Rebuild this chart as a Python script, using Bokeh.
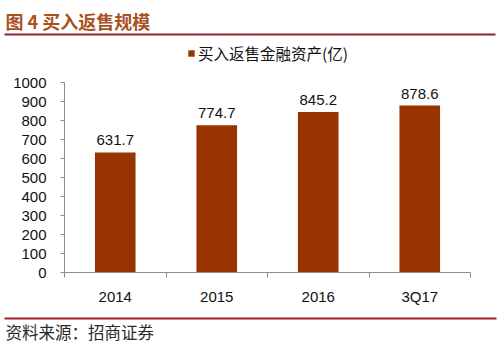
from bokeh.plotting import figure
from bokeh.models import (ColumnDataSource, FixedTicker, Label, Arrow, Legend, LegendItem,
                          Range1d, LabelSet, LinearAxis)
from bokeh.core.properties import value
from bokeh.embed import file_html
from bokeh.resources import INLINE

categories = ["2014", "2015", "2016", "3Q17"]
values = [631.7, 774.7, 845.2, 878.6]
series_name = "买入返售金融资产(亿)"
title_text = "图 4  买入返售规模"
source_text = "资料来源：招商证券"
y_ticks = [0, 100, 200, 300, 400, 500, 600, 700, 800, 900, 1000]

W, H = 500, 356
# plot area in canvas pixels
left_px, right_px, top_px, bottom_px = 64, 470, 82, 272
n = len(categories)
ymax = y_ticks[-1]
xscale = (right_px - left_px) / n
yscale = (bottom_px - top_px) / ymax

xs = [i + 0.5 for i in range(n)]
src = ColumnDataSource(dict(x=xs, v=values, lab=[f"{v:.1f}" for v in values]))

p = figure(width=W, height=H, output_backend="svg", toolbar_location=None,
           x_range=Range1d(-left_px / xscale, n + (W - right_px) / xscale),
           y_range=Range1d(-(H - bottom_px) / yscale, ymax + top_px / yscale),
           x_axis_location=None, y_axis_location=None,
           min_border=0)
p.outline_line_color = None
p.xgrid.visible = False
p.ygrid.visible = False
p.background_fill_color = "white"
p.border_fill_color = "white"

bars = p.vbar(x="x", top="v", width=0.4, source=src, fill_color="#993300", line_color=None)

labels = LabelSet(x="x", y="v", text="lab", source=src, text_align="center", text_baseline="bottom",
                  y_offset=7, text_font=value("Liberation Sans"), text_font_size=value("15px"),
                  text_color="#111111")
p.add_layout(labels)

# axes
ax = LinearAxis(fixed_location=0, bounds=(0, n))
ax.ticker = FixedTicker(ticks=xs, minor_ticks=list(range(n + 1)))
ax.major_label_overrides = {x: c for x, c in zip(xs, categories)}
ax.major_tick_in = 0
ax.major_tick_out = 0
ax.minor_tick_in = 0
ax.minor_tick_out = 5
ax.minor_tick_line_color = "#8c8c8c"
ax.axis_line_color = "#8c8c8c"
ax.major_label_text_font = "Liberation Sans"
ax.major_label_text_font_size = "15px"
ax.major_label_text_color = "#111111"
ax.major_label_standoff = 10
p.add_layout(ax, "below")

ay = LinearAxis(fixed_location=0, bounds=(0, ymax))
ay.ticker = FixedTicker(ticks=y_ticks, minor_ticks=[])
ay.major_tick_in = 0
ay.major_tick_out = 4
ay.major_tick_line_color = "#8c8c8c"
ay.axis_line_color = "#8c8c8c"
ay.major_label_text_font = "Liberation Sans"
ay.major_label_text_font_size = "15px"
ay.major_label_text_color = "#111111"
ay.major_label_standoff = 14
p.add_layout(ay, "left")

# legend
legend = Legend(items=[LegendItem(label=series_name, renderers=[bars])],
                location=(187, H - 64), orientation="horizontal",
                glyph_width=8, glyph_height=8, label_standoff=3, label_height=16,
                label_text_font="Noto Sans CJK SC", label_text_font_size="15.5px",
                label_text_color="#111111", padding=0, margin=0, spacing=0,
                border_line_color=None, background_fill_alpha=0)
p.add_layout(legend)

# title, rules and source
p.add_layout(Label(x=5, y=H - 20, x_units="screen", y_units="screen", text=title_text,
                   text_font="Noto Sans CJK SC", text_font_style="bold", text_font_size="18px",
                   text_color="#A9521F", text_baseline="middle"))
p.add_layout(Arrow(end=None, x_start=4, y_start=H - 34, x_end=495, y_end=H - 34,
                   start_units="screen", end_units="screen", line_color="#8B2332", line_width=2))
p.add_layout(Arrow(end=None, x_start=4, y_start=H - 318, x_end=496, y_end=H - 318,
                   start_units="screen", end_units="screen", line_color="#A3202C", line_width=2))
p.add_layout(Label(x=5, y=H - 331, x_units="screen", y_units="screen", text=source_text,
                   text_font="Noto Sans CJK SC", text_font_size="16.5px",
                   text_color="#2a2a2a", text_baseline="middle"))

open("out.html", "w").write(file_html(p, INLINE))
